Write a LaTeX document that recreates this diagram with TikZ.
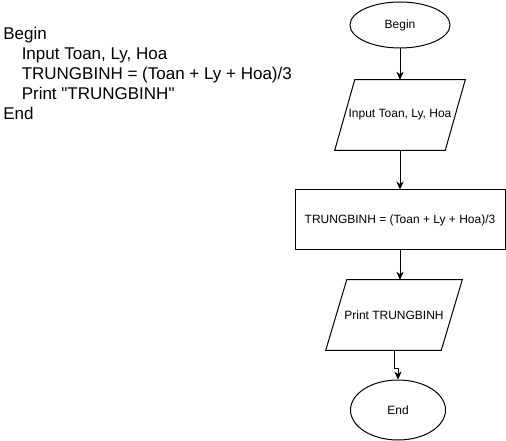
\documentclass[tikz,border=0pt]{standalone}
\usepackage{fontspec}
\setmainfont{Liberation Sans}
\usetikzlibrary{arrows.meta,calc,shapes.geometric}
\begin{document}
\begin{tikzpicture}[x=0.75pt,y=-0.75pt,
  every node/.style={font=\fontsize{9pt}{11pt}\selectfont},
  conn/.style={draw=black,line width=0.75pt,-{Stealth[length=6pt,width=5.5pt]}},
  shapeline/.style={draw=black,line width=0.75pt},
  terminal/.style={shapeline,ellipse,inner sep=0pt},
  ghost/.style={inner sep=0pt,rectangle},
  code/.style={anchor=base west,inner sep=0pt,font=\fontsize{12.75pt}{15pt}\selectfont}]
\useasboundingbox (0,0) rectangle (506,441);
% pseudocode
\node[code] (c1) at (3,40) {Begin};
\node[code] (c2) at (21.5,60) {Input Toan, Ly, Hoa};
\node[code] (c3) at (21.5,80) {TRUNGBINH = (Toan + Ly + Hoa)/3};
\node[code] (c4) at (21.5,100) {Print \textquotedbl TRUNGBINH\textquotedbl};
\node[code] (c5) at (3,120) {End};
% flowchart
\node[terminal,minimum width=75pt,minimum height=34.5pt] (begin) at (400,25) {Begin};
\node[ghost,minimum width=97.5pt,minimum height=52.5pt] (input) at (400,115) {Input Toan, Ly, Hoa};
\draw[shapeline] ($(input.north west)+(20,0)$) -- (input.north east) -- ($(input.south east)+(-20,0)$) -- (input.south west) -- cycle;
\node[shapeline,rectangle,minimum width=157.5pt,minimum height=45pt,inner sep=0pt] (avg) at (400,220) {TRUNGBINH = (Toan + Ly + Hoa)/3};
\node[ghost,minimum width=102pt,minimum height=52.5pt] (print) at (394,315) {Print TRUNGBINH};
\draw[shapeline] ($(print.north west)+(21,0)$) -- (print.north east) -- ($(print.south east)+(-21,0)$) -- (print.south west) -- cycle;
\node[terminal,minimum width=71.25pt,minimum height=45pt] (end) at (398,410) {End};
\coordinate (pb) at (394,350);
\coordinate (jog) at (394,368);
\draw[conn] (begin.south) -- (input.north);
\draw[conn] (input.south) -- (avg.north);
\draw[conn] (avg.south) -- (avg.south |- print.north);
\draw[conn] (pb) -- (jog) -| (end.north);
\end{tikzpicture}
\end{document}
